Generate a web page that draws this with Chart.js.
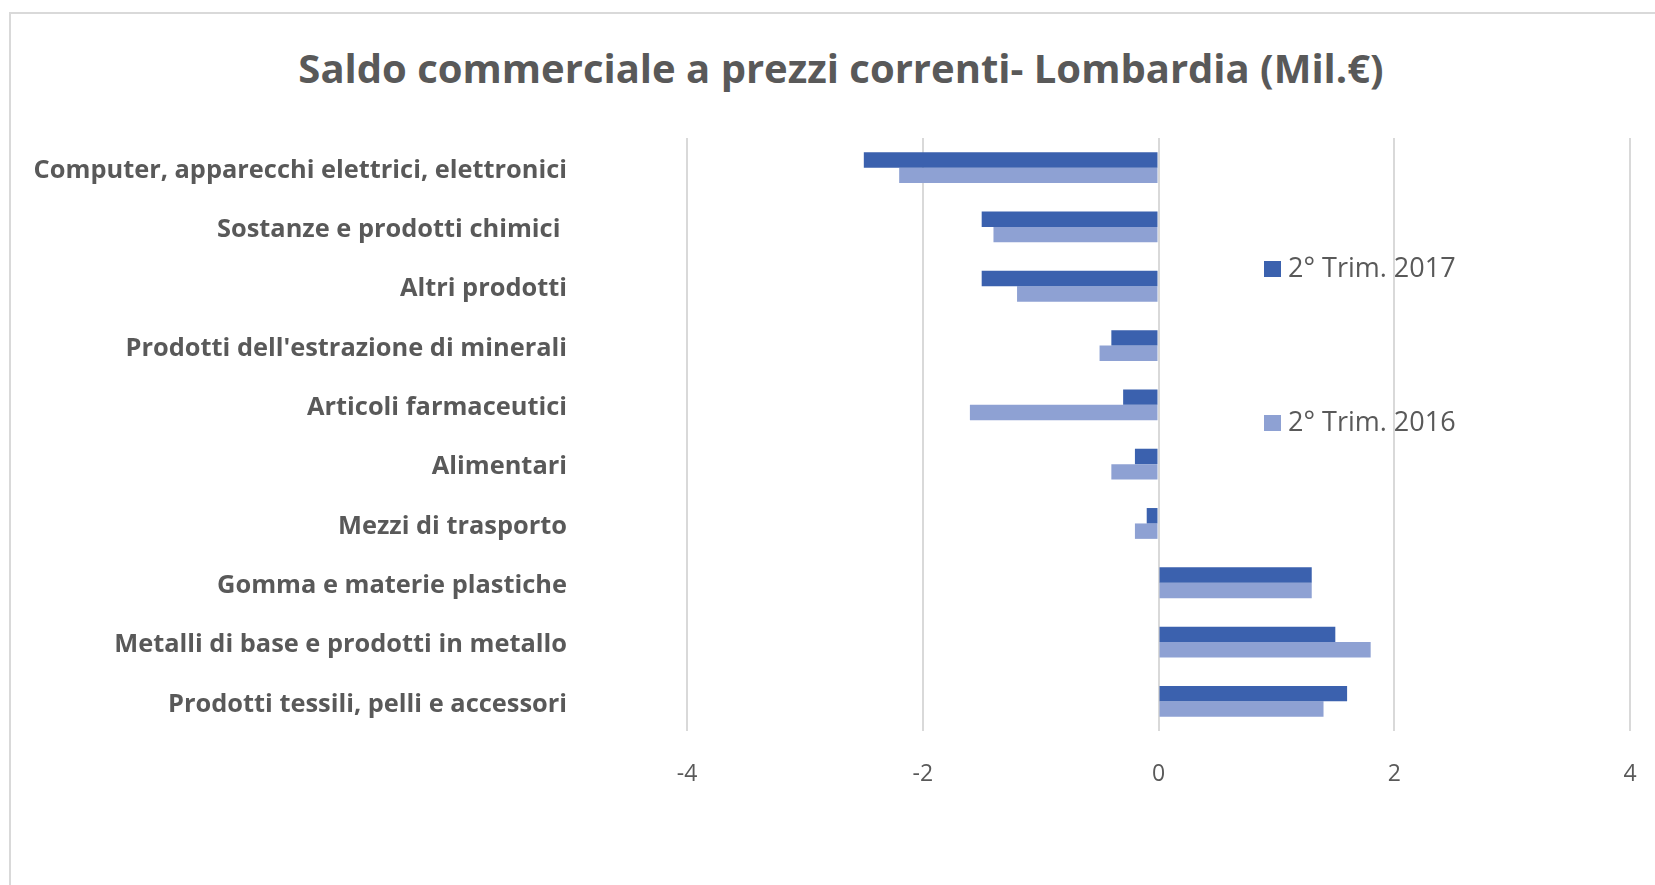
<!DOCTYPE html>
<html>
<head>
<meta charset="utf-8">
<script src="https://cdn.jsdelivr.net/npm/chart.js@4.4.1/dist/chart.umd.min.js"></script>
<style>
  html, body { margin: 0; padding: 0; background: #fff; overflow: hidden; }
  #cornice { position: absolute; left: 9px; top: 12px; width: 1700px; height: 900px;
             border-top: 2px solid #d9d9d9; border-left: 2px solid #d9d9d9; }
  #titolo { position: absolute; left: 0; top: 40px; width: 1682px; line-height: 48px;
            text-align: center; font: bold 40px "Open Sans"; color: #595959; white-space: nowrap; }
  #chartContainer { position: absolute; left: 0; top: 0; width: 1655px; height: 885px; }
</style>
</head>
<body>
<div id="cornice"></div>
<div id="titolo">Saldo commerciale a prezzi correnti- Lombardia (Mil.€)</div>
<div id="chartContainer"><canvas id="grafico"></canvas></div>
<script>
const categorie = [
  'Computer, apparecchi elettrici, elettronici',
  'Sostanze e prodotti chimici ',
  'Altri prodotti',
  "Prodotti dell'estrazione di minerali",
  'Articoli farmaceutici',
  'Alimentari',
  'Mezzi di trasporto',
  'Gomma e materie plastiche',
  'Metalli di base e prodotti in metallo',
  'Prodotti tessili, pelli e accessori'
];
const trim2017 = [-2.5, -1.5, -1.5, -0.4, -0.3, -0.2, -0.1, 1.3, 1.5, 1.6];
const trim2016 = [-2.2, -1.4, -1.2, -0.5, -1.6, -0.4, -0.2, 1.3, 1.8, 1.4];
const serie = ['2° Trim. 2017', '2° Trim. 2016'];
const xTicks = [-4, -2, 0, 2, 4];

const grigio = '#595959';
const cores = ['#3b61ae', '#8ea1d3'];

// legenda disegnata dentro l'area del grafico, come nell'originale
const legendaPlugin = {
  id: 'legenda',
  afterDraw(chart) {
    const ctx = chart.ctx;
    const posY = [269, 423];
    ctx.save();
    ctx.font = '27px "Open Sans"';
    ctx.textBaseline = 'middle';
    ctx.textAlign = 'left';
    chart.data.datasets.forEach((ds, i) => {
      ctx.fillStyle = ds.backgroundColor;
      ctx.fillRect(1264, posY[i] - 8, 17, 16);
      ctx.fillStyle = grigio;
      ctx.fillText(ds.label, 1288, posY[i]);
    });
    ctx.restore();
  }
};

new Chart(document.getElementById('grafico').getContext('2d'), {
  type: 'bar',
  data: {
    labels: categorie,
    datasets: [
      { label: serie[0], data: trim2017, backgroundColor: cores[0] },
      { label: serie[1], data: trim2016, backgroundColor: cores[1] }
    ]
  },
  options: {
    indexAxis: 'y',
    responsive: true,
    maintainAspectRatio: false,
    animation: false,
    categoryPercentage: 0.52,
    barPercentage: 1.0,
    layout: { padding: { left: 0, right: 25, top: 138, bottom: 0 } },
    plugins: {
      legend: { display: false },
      tooltip: { enabled: false },
      title: { display: false }
    },
    scales: {
      x: {
        min: -4,
        max: 4,
        afterBuildTicks: (axis) => { axis.ticks = xTicks.map(v => ({ value: v })); },
        grid: { color: '#d9d9d9', lineWidth: 2, drawTicks: false },
        border: { display: false },
        ticks: {
          color: grigio,
          padding: 30,
          font: { family: '"Open Sans"', size: 23 }
        },
        afterFit: (axis) => {
          axis.height = 154;
          axis.paddingLeft = 0;
          axis.paddingRight = 7;
        }
      },
      y: {
        grid: { display: false, drawTicks: false },
        border: { display: false },
        ticks: {
          color: grigio,
          padding: 120,
          labelOffset: 3,
          font: { family: '"Open Sans"', size: 25.4, weight: 'bold' }
        },
        afterFit: (axis) => {
          axis.width = 687;
          axis.paddingTop = 0;
          axis.paddingBottom = 0;
        }
      }
    }
  },
  plugins: [legendaPlugin]
});
</script>
</body>
</html>
